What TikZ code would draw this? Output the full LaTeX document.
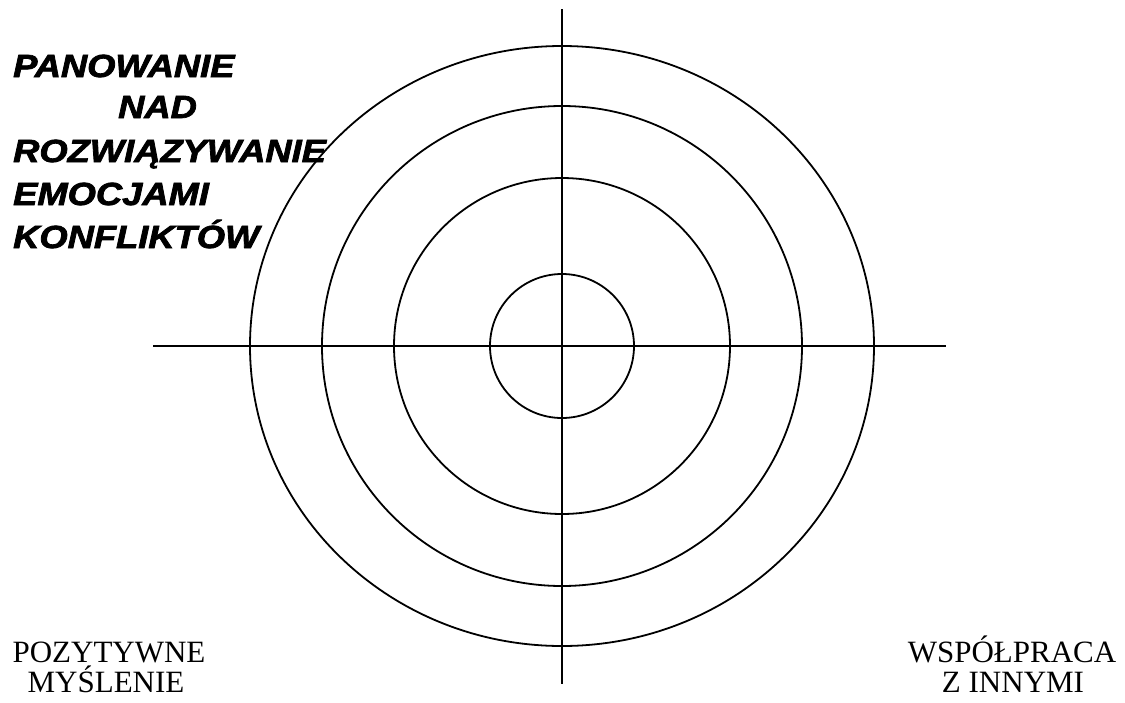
\documentclass[tikz,border=0pt]{standalone}
\usepackage{fontspec}
\setmainfont{Liberation Serif}
\newfontfamily\heavyfont[FakeBold=2.2]{Liberation Sans}
\tikzset{
  ring/.style={draw=black, line width=1.8pt},
  axis/.style={draw=black, line width=1.8pt},
  headline/.style={anchor=base west, inner sep=0pt, font=\heavyfont\bfseries\itshape\fontsize{32}{32}\selectfont},
  footline/.style={anchor=base, inner sep=0pt, font=\fontsize{31}{31}\selectfont}
}
\newcommand{\wide}[1]{\scalebox{1.135}[1]{#1}}
\begin{document}
\begin{tikzpicture}[x=1pt,y=-1pt]
\useasboundingbox (0,0) rectangle (1125,702);
\coordinate (c) at (562,346);
\draw[ring] (c) ellipse [x radius=312, y radius=300];
\draw[ring] (c) circle [radius=240];
\draw[ring] (c) circle [radius=168];
\draw[ring] (c) circle [radius=72];
\coordinate (top) at (562,9);
\coordinate (bot) at (562,684);
\coordinate (left) at (153,346);
\coordinate (right) at (946,346);
\draw[axis] (top) -- (bot);
\draw[axis] (left) -- (right);
\node[headline] (h1) at (13,77) {\wide{PANOWANIE}};
\node[headline] (h2) at (118,118) {\wide{NAD}};
\node[headline] (h3) at (13,162) {\wide{ROZWIĄZYWANIE}};
\node[headline] (h4) at (13,205) {\wide{EMOCJAMI}};
\node[headline] (h5) at (13,248) {\wide{KONFLIKTÓW}};
\node[footline] (p1) at (109,662) {POZYTYWNE};
\node[footline] (p2) at (106,692) {MYŚLENIE};
\node[footline] (w1) at (1012,662) {WSPÓŁPRACA};
\node[footline] (w2) at (1013,692) {Z INNYMI};
\end{tikzpicture}
\end{document}
